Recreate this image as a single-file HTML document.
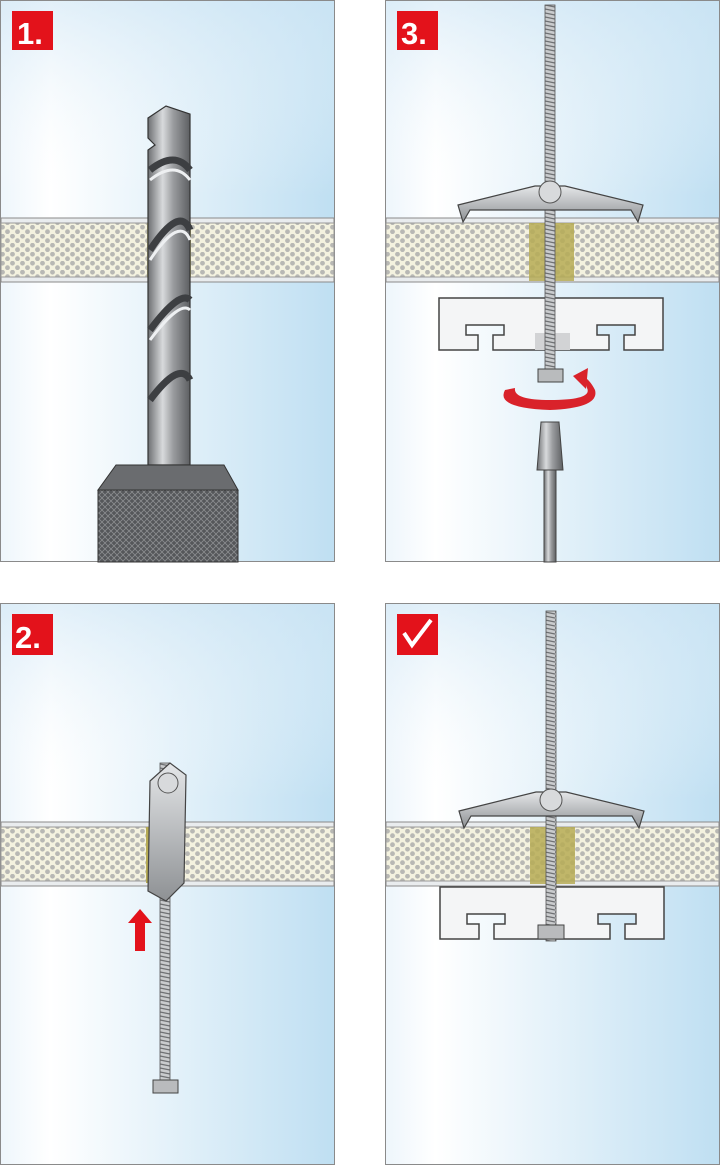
<!DOCTYPE html>
<html><head><meta charset="utf-8"><style>
html,body{margin:0;padding:0;background:#fff;}
svg{display:block;}
text{font-family:"Liberation Sans",sans-serif;font-weight:bold;fill:#fff;}
</style></head><body>
<svg width="720" height="1166" viewBox="0 0 720 1166" xmlns="http://www.w3.org/2000/svg">
<defs>
<linearGradient id="bg" x1="0" x2="1" y1="0" y2="0">
<stop offset="0" stop-color="#eef6fc"/><stop offset="0.15" stop-color="#ffffff"/><stop offset="1" stop-color="#bfdff2"/>
</linearGradient>
<linearGradient id="bgv" x1="0" x2="0" y1="0" y2="1">
<stop offset="0" stop-color="#cfe6f5" stop-opacity="0.6"/><stop offset="0.35" stop-color="#ffffff" stop-opacity="0"/>
</linearGradient>
<pattern id="dots" width="10" height="9" patternUnits="userSpaceOnUse">
<rect width="10" height="9" fill="#f4f2df"/>
<circle cx="2.5" cy="2.2" r="2.4" fill="#b8b8b4"/>
<circle cx="7.5" cy="6.7" r="2.4" fill="#b8b8b4"/>
</pattern>
<linearGradient id="metal" x1="0" x2="1">
<stop offset="0" stop-color="#6d6f72"/><stop offset="0.35" stop-color="#d8dadc"/><stop offset="0.6" stop-color="#9a9c9f"/><stop offset="1" stop-color="#5d5f62"/>
</linearGradient>
<linearGradient id="wing" x1="0" x2="0" y1="0" y2="1">
<stop offset="0" stop-color="#e4e6e8"/><stop offset="1" stop-color="#8e9194"/>
</linearGradient>
<pattern id="thread" width="10" height="4" patternUnits="userSpaceOnUse">
<rect width="10" height="4" fill="#c9cbcd"/><line x1="0" y1="1" x2="10" y2="3" stroke="#6e7073" stroke-width="1.2"/>
</pattern>
<pattern id="knurl" width="6" height="6" patternUnits="userSpaceOnUse">
<rect width="6" height="6" fill="#55575a"/><path d="M0 0L6 6M6 0L0 6" stroke="#8a8c8f" stroke-width="0.8"/>
</pattern>
<g id="panelbg">
<rect x="0.5" y="0.5" width="334" height="561" fill="url(#bg)" stroke="#8a8a8a"/>
<rect x="1" y="1" width="333" height="560" fill="url(#bgv)"/>
</g>
<g id="wall">
<rect x="1" y="218" width="333" height="64" fill="#e9ecee" stroke="#8a8a8a"/>
<rect x="1" y="223" width="333" height="54" fill="url(#dots)" stroke="#9a9a9a"/>
</g>
<g id="bracket">
<path d="M0 0H224V52H185V37H196V27H158V37H170V52H54V37H65V27H27V37H39V52H0Z" fill="#f4f5f6" stroke="#444" stroke-width="1.5"/>
</g>
</defs>

<!-- Panel 1 -->
<g>
<use href="#panelbg"/>
<use href="#wall"/>
<rect x="147" y="223" width="44" height="54" fill="#b9b16a" opacity="0.8"/>
<path d="M148 118 L166 106 L190 114 L190 465 L148 465 L148 150 L155 145 L148 138Z" fill="url(#metal)" stroke="#333" stroke-width="1.2"/>
<path d="M150 170 Q175 150 190 170 M150 250 Q180 205 190 230 M150 330 Q180 290 190 300 M150 400 Q180 360 190 380" stroke="#3d3f42" stroke-width="7" fill="none"/>
<path d="M150 180 Q175 160 190 180 M150 260 Q180 215 190 240 M150 340 Q180 300 190 310" stroke="#eef0f2" stroke-width="3" fill="none"/>
<path d="M116 465 H224 L238 490 H98Z" fill="#6a6c6f" stroke="#333"/>
<rect x="98" y="490" width="140" height="72" fill="url(#knurl)" stroke="#333"/>
<rect x="12" y="11" width="41" height="39" fill="#e3121b"/>
<text x="17" y="44" font-size="31">1.</text>
</g>

<!-- Panel 3 -->
<g transform="translate(385,0)">
<use href="#panelbg"/>
<use href="#wall"/>
<rect x="144" y="223" width="45" height="58" fill="#b6ab55" opacity="0.85"/>
<use href="#bracket" transform="translate(54,298)"/>
<rect x="150" y="333" width="35" height="17" fill="#d2d3d5"/>
<rect x="160" y="5" width="10" height="365" fill="url(#thread)" stroke="#555" stroke-width="0.8"/>
<path d="M73 205 L150 186 H180 L258 205 L253 222 L246 210 H85 L78 222Z" fill="url(#wing)" stroke="#444" stroke-width="1.2"/>
<circle cx="165" cy="192" r="11" fill="#d8dadc" stroke="#555"/>
<rect x="153" y="369" width="25" height="13" fill="#b9bbbd" stroke="#444"/>
<path d="M120 390 Q110 408 165 410 Q215 408 210 390 Q205 380 198 376 L202 388 Q208 400 165 400 Q128 400 130 388Z" fill="#d9222a"/>
<path d="M188 376 L203 368 L201 389Z" fill="#d9222a"/>
<path d="M156 422 H174 L178 470 H152Z" fill="url(#metal)" stroke="#444"/>
<rect x="159" y="470" width="12" height="92" fill="url(#metal)" stroke="#444"/>
<rect x="12" y="11" width="41" height="39" fill="#e3121b"/>
<text x="16" y="44" font-size="31">3.</text>
</g>

<!-- Panel 2 -->
<g transform="translate(0,603)">
<use href="#panelbg"/>
<use href="#wall" transform="translate(0,1)"/>
<rect x="146" y="224" width="12" height="56" fill="#b6ab55"/>
<rect x="160" y="160" width="10" height="320" fill="url(#thread)" stroke="#555" stroke-width="0.8"/>
<path d="M150 178 L170 160 L186 172 L184 280 L166 298 L148 288Z" fill="url(#wing)" stroke="#444" stroke-width="1.2"/>
<circle cx="168" cy="180" r="10" fill="#d8dadc" stroke="#555"/>
<rect x="153" y="477" width="25" height="13" fill="#b9bbbd" stroke="#444"/>
<path d="M140 306 L152 320 H145 V348 H135 V320 H128Z" fill="#e3121b"/>
<rect x="12" y="11" width="41" height="41" fill="#e3121b"/>
<text x="15" y="45" font-size="31">2.</text>
</g>

<!-- Panel 4 -->
<g transform="translate(385,603)">
<use href="#panelbg"/>
<use href="#wall" transform="translate(0,1)"/>
<rect x="145" y="224" width="45" height="57" fill="#b6ab55" opacity="0.85"/>
<use href="#bracket" transform="translate(55,284)"/>
<rect x="161" y="8" width="10" height="330" fill="url(#thread)" stroke="#555" stroke-width="0.8"/>
<path d="M74 208 L151 189 H181 L259 208 L254 225 L247 213 H86 L79 225Z" fill="url(#wing)" stroke="#444" stroke-width="1.2"/>
<circle cx="166" cy="197" r="11" fill="#d8dadc" stroke="#555"/>
<rect x="153" y="322" width="26" height="14" fill="#b9bbbd" stroke="#444"/>
<rect x="12" y="11" width="41" height="41" fill="#e3121b"/>
<path d="M19 30 L27 42 L46 17" stroke="#fff" stroke-width="4" fill="none"/>
</g>
</svg>
</body></html>
